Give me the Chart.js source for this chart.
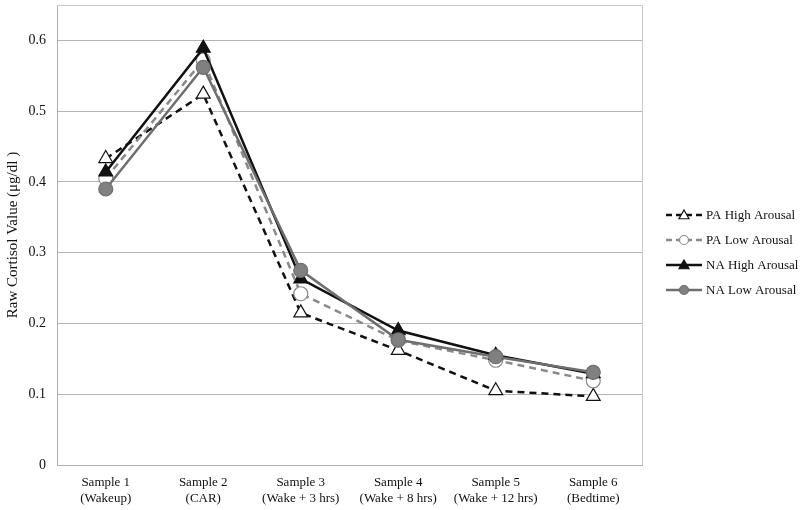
<!DOCTYPE html>
<html>
<head>
<meta charset="utf-8">
<script src="https://cdn.jsdelivr.net/npm/chart.js@4/dist/chart.umd.min.js"></script>
<style>
html,body{margin:0;padding:0;background:#fff;}
#wrap{width:800px;height:510px;position:relative;}
</style>
</head>
<body>
<div id="wrap"><canvas id="c" width="800" height="510"></canvas></div>
<script>
const categories = [
  ["Sample 1", "(Wakeup)"],
  ["Sample 2", "(CAR)"],
  ["Sample 3", "(Wake + 3 hrs)"],
  ["Sample 4", "(Wake + 8 hrs)"],
  ["Sample 5", "(Wake + 12 hrs)"],
  ["Sample 6", "(Bedtime)"]
];
const seriesNames = ["PA High Arousal", "PA Low Arousal", "NA High Arousal", "NA Low Arousal"];
const paHigh = [0.433, 0.524, 0.215, 0.162, 0.105, 0.097];
const paLow  = [0.405, 0.572, 0.242, 0.176, 0.148, 0.119];
const naHigh = [0.414, 0.589, 0.263, 0.190, 0.155, 0.129];
const naLow  = [0.390, 0.562, 0.275, 0.177, 0.153, 0.131];
const yTicks = [0, 0.1, 0.2, 0.3, 0.4, 0.5, 0.6];

const FONT = "'Liberation Serif', 'Times New Roman', serif";

const styles = [
  {color:'#111', dash:[7,5], fill:'#fff', point:'triangle', radius:8},
  {color:'#8a8a8a', dash:[7,5], fill:'#fff', point:'circle', radius:7},
  {color:'#111', dash:[], fill:'#111', point:'triangle', radius:8},
  {color:'#6e6e6e', dash:[], fill:'#808080', point:'circle', radius:7}
];
const values = [paHigh, paLow, naHigh, naLow];

const datasets = values.map((v, i) => ({
  label: seriesNames[i],
  data: v,
  borderColor: styles[i].color,
  borderWidth: 2.5,
  borderDash: styles[i].dash,
  pointStyle: styles[i].point,
  pointRadius: styles[i].radius,
  pointBackgroundColor: styles[i].fill,
  pointBorderColor: styles[i].color,
  pointBorderWidth: 1.2,
  tension: 0,
  fill: false,
  clip: false,
  order: 4 - i
}));

const framePlugin = {
  id: 'frame',
  beforeDatasetsDraw(chart) {
    const {ctx, chartArea: a} = chart;
    ctx.save();
    ctx.strokeStyle = '#c8c8c8';
    ctx.lineWidth = 1;
    ctx.beginPath();
    ctx.moveTo(a.left, a.top + 0.5);
    ctx.lineTo(a.right + 0.5, a.top + 0.5);
    ctx.lineTo(a.right + 0.5, a.bottom);
    ctx.stroke();
    ctx.restore();
  }
};

const legendPlugin = {
  id: 'customLegend',
  afterDraw(chart) {
    const ctx = chart.ctx;
    const x0 = 666, len = 36, y0 = 215, gap = 25;
    ctx.save();
    styles.forEach((s, i) => {
      const y = y0 + i * gap;
      ctx.strokeStyle = s.color;
      ctx.lineWidth = 2.5;
      ctx.setLineDash(s.dash.length ? [6,4] : []);
      ctx.beginPath();
      ctx.moveTo(x0, y);
      ctx.lineTo(x0 + len, y);
      ctx.stroke();
      ctx.setLineDash([]);
      const cx = x0 + len / 2;
      ctx.fillStyle = s.fill;
      ctx.lineWidth = 1.2;
      ctx.beginPath();
      if (s.point === 'triangle') {
        const r = 5;
        ctx.moveTo(cx, y - r);
        ctx.lineTo(cx + r, y + r * 0.75);
        ctx.lineTo(cx - r, y + r * 0.75);
        ctx.closePath();
      } else {
        ctx.arc(cx, y, 4.5, 0, Math.PI * 2);
      }
      ctx.fill();
      ctx.stroke();
      ctx.fillStyle = '#111';
      ctx.font = "13px " + FONT;
      ctx.textBaseline = 'middle';
      ctx.textAlign = 'left';
      ctx.fillText(seriesNames[i], x0 + len + 4, y + 1);
    });
    ctx.restore();
  }
};

new Chart(document.getElementById('c'), {
  type: 'line',
  data: { labels: categories, datasets },
  options: {
    responsive: false,
    animation: false,
    layout: { autoPadding: false, padding: { top: 5, right: 158, bottom: 0, left: 0 } },
    plugins: { legend: { display: false }, tooltip: { enabled: false } },
    scales: {
      x: {
        offset: true,
        grid: { display: false, drawTicks: false },
        border: { display: true, color: '#b0b0b0', width: 1 },
        ticks: { color: '#111', font: { family: FONT, size: 13 }, padding: 10, maxRotation: 0, autoSkip: false },
        afterFit(s) { s.height = 45; s.paddingLeft = 0; s.paddingRight = 0; }
      },
      y: {
        min: 0, max: 0.65,
        afterBuildTicks(s) { s.ticks = yTicks.map(v => ({value: v})).concat([{value: 0.65}]); },
        grid: { color: ctx => (ctx.tick && ctx.tick.value > 0.6 ? '#c8c8c8' : (ctx.tick && ctx.tick.value === 0 ? 'rgba(0,0,0,0)' : '#b4b4b4')), lineWidth: 1, drawTicks: false },
        border: { display: true, color: '#b0b0b0', width: 1 },
        ticks: {
          color: '#111',
          font: ctx => ({ family: FONT, size: (ctx.tick && ctx.tick.value > 0.6) ? 1 : 14 }),
          padding: 11,
          callback: v => (v > 0.6 ? '' : String(Math.round(v * 10) / 10))
        },
        title: { display: true, text: 'Raw Cortisol Value (μg/dl )', color: '#111', font: { family: FONT, size: 15 }, padding: { top: 4, bottom: 2 } },
        afterFit(s) { s.width = 57; s.paddingTop = 0; s.paddingBottom = 0; }
      }
    }
  },
  plugins: [framePlugin, legendPlugin]
});
</script>
</body>
</html>
